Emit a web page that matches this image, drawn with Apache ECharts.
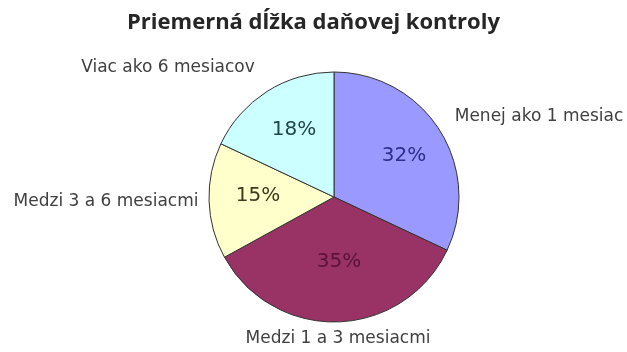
<!DOCTYPE html>
<html>
<head>
<meta charset="utf-8">
<script src="https://cdn.jsdelivr.net/npm/echarts@6/dist/echarts.min.js"></script>
<style>
  html, body { margin: 0; padding: 0; background: #ffffff; }
  #chart { width: 627px; height: 352px; }
</style>
</head>
<body>
<div id="chart"></div>
<script>
// Average duration of a tax audit (share of audits, %)
const categories = ['Menej ako 1 mesiac', 'Medzi 1 a 3 mesiacmi', 'Medzi 3 a 6 mesiacmi', 'Viac ako 6 mesiacov'];
const shares = [32, 35, 15, 18];
const sliceColors = ['#9999ff', '#993366', '#ffffcc', '#ccffff'];
const percentColors = ['#2e2e8a', '#5c1238', '#3a3a1c', '#1f4545'];

// Text anchor points (centre of text): category names around the pie, percentages inside
const nameAnchors = [[539, 117], [338, 339], [106, 202], [168, 68]];
const percentAnchors = [[404, 156], [339, 262], [258, 196], [294, 130]];

const chart = echarts.init(document.getElementById('chart'), null, { renderer: 'canvas' });

const center = [334, 197];

function anchoredLayout(anchors) {
  return function (params) {
    const p = anchors[params.dataIndex];
    return { x: p[0], y: p[1], align: 'center', verticalAlign: 'middle' };
  };
}

chart.setOption({
  backgroundColor: '#ffffff',
  animation: false,
  title: {
    text: 'Priemerná dĺžka daňovej kontroly',
    left: 'center',
    top: 7,
    textStyle: {
      fontFamily: 'Open Sans',
      fontWeight: 'bold',
      fontSize: 22,
      color: '#262626'
    }
  },
  series: [
    {
      type: 'pie',
      center: center,
      radius: 125,
      startAngle: 90,
      clockwise: true,
      data: categories.map((name, i) => ({
        name: name,
        value: shares[i],
        itemStyle: { color: sliceColors[i] }
      })),
      itemStyle: { borderColor: '#333333', borderWidth: 1 },
      label: {
        show: true,
        position: 'outside',
        formatter: '{b}',
        overflow: 'none',
        fontFamily: 'DejaVu Sans',
        fontSize: 17,
        color: '#404040'
      },
      labelLine: { show: false },
      labelLayout: anchoredLayout(nameAnchors),
      emphasis: { disabled: true }
    },
    {
      type: 'pie',
      center: center,
      radius: 154,
      startAngle: 90,
      clockwise: true,
      silent: true,
      data: categories.map((name, i) => ({
        name: name,
        value: shares[i],
        itemStyle: { color: 'rgba(0,0,0,0)' },
        label: { color: percentColors[i] }
      })),
      label: {
        show: true,
        position: 'inside',
        formatter: '{c}%',
        fontFamily: 'DejaVu Sans',
        fontSize: 20
      },
      labelLine: { show: false },
      labelLayout: anchoredLayout(percentAnchors),
      emphasis: { disabled: true }
    }
  ]
});
</script>
</body>
</html>
